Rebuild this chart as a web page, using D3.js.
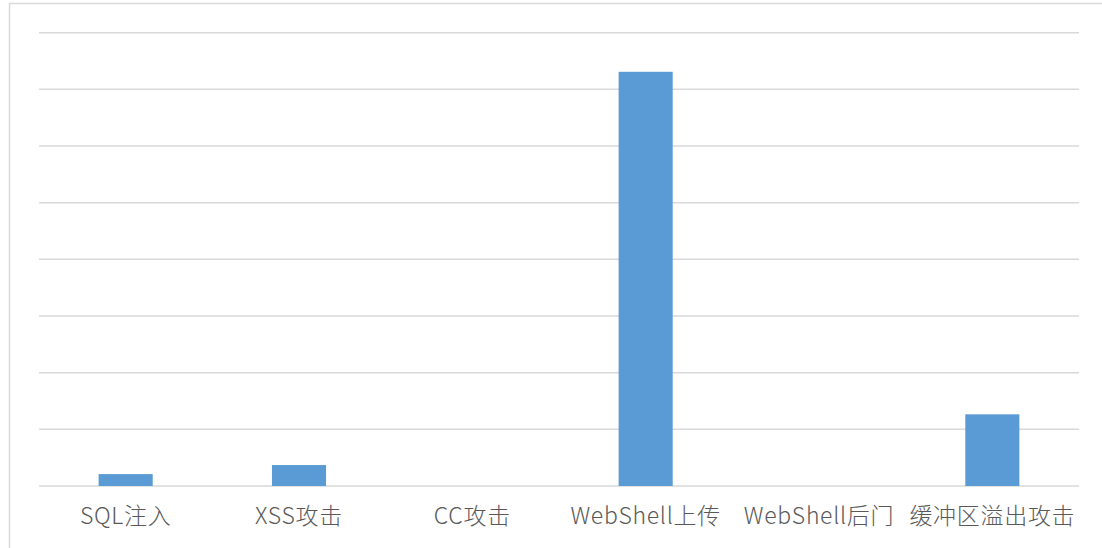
<!DOCTYPE html>
<html>
<head>
<meta charset="utf-8">
<script src="https://cdn.jsdelivr.net/npm/d3@7"></script>
<style>
  html, body { margin: 0; padding: 0; background: #ffffff; }
  svg { display: block; }
</style>
</head>
<body>
<svg id="chart" width="1102" height="548"></svg>
<script>
const categories = ["SQL注入", "XSS攻击", "CC攻击", "WebShell上传", "WebShell后门", "缓冲区溢出攻击"];
const values = [2.1, 3.7, 0, 73.1, 0, 12.65];
const yTicks = [0, 10, 20, 30, 40, 50, 60, 70, 80];

const svg = d3.select("#chart");
const W = 1102, H = 548;
const plot = { left: 39, right: 1079, top: 32.7, bottom: 486 };

// outer chart border
svg.append("rect")
  .attr("x", 9.5).attr("y", 3.5)
  .attr("width", W + 10).attr("height", H + 10)
  .attr("fill", "none").attr("stroke", "#d9d9d9").attr("stroke-width", 1.5);

const x = d3.scaleBand()
  .domain(categories)
  .range([plot.left, plot.right])
  .paddingInner(0.688)
  .paddingOuter(0.344);

const y = d3.scaleLinear()
  .domain([0, 80])
  .range([plot.bottom, plot.top]);

// gridlines
svg.append("g")
  .selectAll("line")
  .data(yTicks)
  .join("line")
  .attr("x1", plot.left).attr("x2", plot.right)
  .attr("y1", d => y(d)).attr("y2", d => y(d))
  .attr("stroke", "#d9d9d9").attr("stroke-width", 1.5);

// bars
svg.append("g")
  .selectAll("rect")
  .data(categories.map((c, i) => ({ c, v: values[i] })).filter(d => d.v > 0))
  .join("rect")
  .attr("x", d => x(d.c))
  .attr("width", x.bandwidth())
  .attr("y", d => y(d.v))
  .attr("height", d => y(0) - y(d.v))
  .attr("fill", "#5b9bd5");

// x axis labels
const xAxis = d3.axisBottom(x).tickSize(0).tickPadding(0);
const gx = svg.append("g")
  .attr("transform", `translate(0, ${plot.bottom})`)
  .call(xAxis);
gx.select(".domain").remove();
gx.selectAll("text")
  .attr("dy", null)
  .attr("y", 38)
  .attr("fill", "#595959")
  .style("font-family", "'Noto Sans CJK SC', 'Noto Sans', sans-serif")
  .style("font-weight", "300")
  .style("letter-spacing", "0.7px")
  .style("font-size", "23px");
</script>
</body>
</html>
